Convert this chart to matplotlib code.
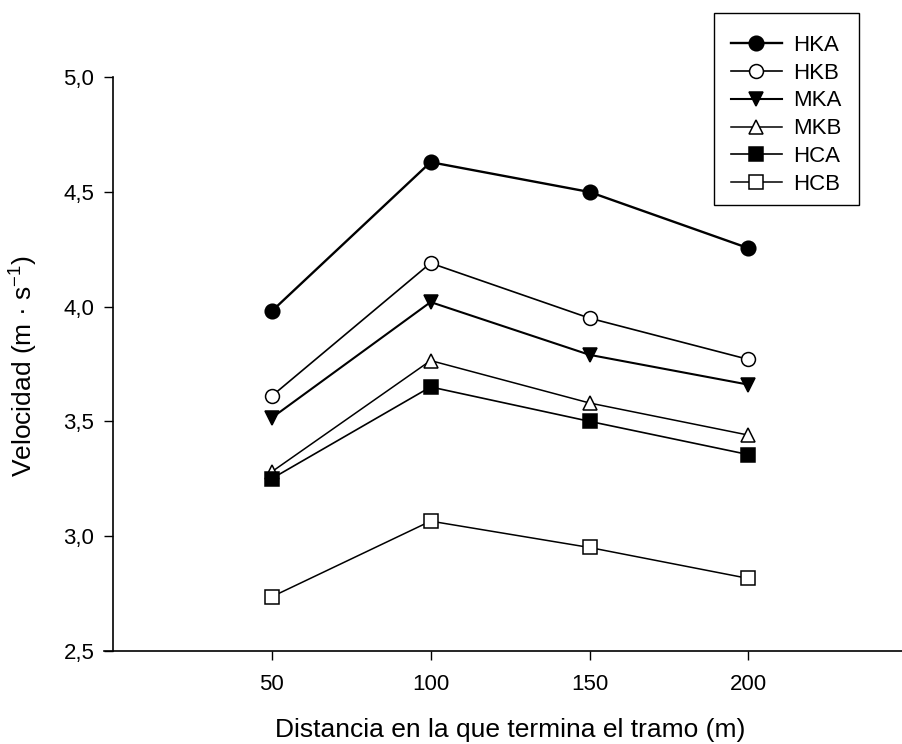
import matplotlib
matplotlib.use("Agg")
import matplotlib.pyplot as plt
from matplotlib.patches import Rectangle

plt.rcParams['font.family'] = ['Liberation Sans', 'DejaVu Sans']
plt.rcParams['mathtext.fontset'] = 'custom'
plt.rcParams['mathtext.rm'] = 'Liberation Sans'
plt.rcParams['mathtext.it'] = 'Liberation Sans'

distances = [50, 100, 150, 200]
series_names = ["HKA", "HKB", "MKA", "MKB", "HCA", "HCB"]
HKA = [3.98, 4.63, 4.50, 4.255]
HKB = [3.61, 4.19, 3.95, 3.77]
MKA = [3.515, 4.02, 3.79, 3.66]
MKB = [3.28, 3.765, 3.58, 3.44]
HCA = [3.25, 3.65, 3.50, 3.355]
HCB = [2.735, 3.065, 2.95, 2.815]
yticks = [2.5, 3.0, 3.5, 4.0, 4.5, 5.0]
ytick_labels = ["2,5", "3,0", "3,5", "4,0", "4,5", "5,0"]
xticks = [50, 100, 150, 200]
xtick_labels = ["50", "100", "150", "200"]

W, H = 903, 744
fig = plt.figure(figsize=(W / 100, H / 100), dpi=100)
ax = fig.add_axes([104 / W, 93.3 / H, (907.3 - 104) / W, (650.7 - 77.3) / H])

styles = {
    "HKA": dict(marker='o', mfc='black', ms=10.5, lw=1.7),
    "HKB": dict(marker='o', mfc='white', ms=10, lw=1.2),
    "MKA": dict(marker='v', mfc='black', ms=10, lw=1.5),
    "MKB": dict(marker='^', mfc='white', ms=9.5, lw=1.1),
    "HCA": dict(marker='s', mfc='black', ms=9.5, lw=1.2),
    "HCB": dict(marker='s', mfc='white', ms=9.5, lw=1.1),
}
data = {"HKA": HKA, "HKB": HKB, "MKA": MKA, "MKB": MKB, "HCA": HCA, "HCB": HCB}
handles = []
for name in series_names:
    st = styles[name]
    h, = ax.plot(distances, data[name], color='black', mec='black', mew=1.1,
                 label=name, clip_on=False, zorder=3, **st)
    handles.append(h)

ax.set_xlim(-2.77, 250)
ax.set_ylim(2.5, 5.0)
ax.spines['top'].set_visible(False)
ax.spines['right'].set_visible(False)
ax.spines['left'].set_position(('data', 0))
ax.spines['left'].set_bounds(2.5, 5.0)
for s in ('left', 'bottom'):
    ax.spines[s].set_linewidth(1.2)

ax.set_xticks(xticks)
ax.set_xticklabels(xtick_labels)
ax.set_yticks(yticks)
ax.set_yticklabels(ytick_labels)
ax.tick_params(axis='both', direction='out', length=6.3, width=1.0, labelsize=16)
ax.tick_params(axis='x', pad=10.6)
ax.tick_params(axis='y', pad=7)

fig.text(510 / W, 1 - 737.5 / H, "Distancia en la que termina el tramo (m)",
         ha='center', va='baseline', fontsize=19)
fig.text(24 / W, 1 - 366 / H, r"Velocidad (m · s$^{\mathregular{-1}}$)",
         ha='center', va='center', rotation=90, fontsize=19)

leg = fig.legend(handles=handles, loc='upper left',
                 bbox_to_anchor=(714 / W, 1 - 18 / H),
                 fontsize=16, frameon=False,
                 handlelength=2.3, handletextpad=0.5, labelspacing=0.31,
                 borderpad=0.75, borderaxespad=0)
frame = Rectangle((714 / W, 1 - 205 / H), (859 - 714) / W, (205 - 13.3) / H,
                  transform=fig.transFigure, facecolor='white', edgecolor='black',
                  linewidth=1.0, zorder=1)
fig.patches.append(frame)

fig.savefig("out.png", dpi=100)
